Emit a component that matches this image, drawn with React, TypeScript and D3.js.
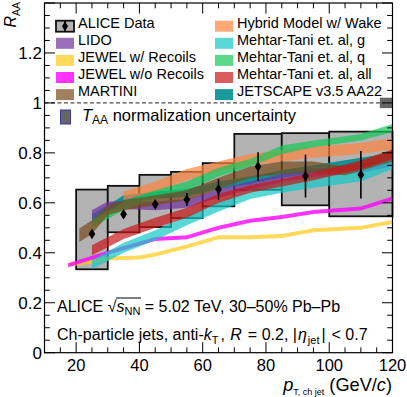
import { area, range, scaleLinear, select } from "d3";
import React, { useEffect, useRef } from "react";

// ALICE data, 30-50% Pb-Pb, R = 0.2
const binLow = [20, 30, 40, 50, 60, 70, 85, 100];
const binHigh = [30, 40, 50, 60, 70, 85, 100, 120];
const binCenter = [25, 35, 45, 55, 65, 77.5, 92.5, 110];
const aliceRaa = [0.475, 0.554, 0.594, 0.613, 0.654, 0.745, 0.707, 0.712];
const aliceStat = [0.014, 0.014, 0.014, 0.026, 0.041, 0.057, 0.086, 0.095];
const aliceSysLow = [0.334, 0.482, 0.503, 0.539, 0.586, 0.652, 0.59, 0.546];
const aliceSysHigh = [0.653, 0.668, 0.712, 0.724, 0.759, 0.876, 0.879, 0.885];

// TAA normalization uncertainty (drawn at R_AA = 1)
const taaUnc = 0.021;
const taaPt = [116, 120];

// models
const lidoPt = [25, 30, 35, 45, 55, 65, 75, 85, 95, 110, 120];
const lidoLow = [0.535, 0.572, 0.575, 0.57, 0.58, 0.62, 0.65, 0.68, 0.7, 0.72, 0.745];
const lidoHigh = [0.57, 0.605, 0.605, 0.605, 0.615, 0.655, 0.685, 0.715, 0.735, 0.755, 0.78];

const jewelRecPt = [17.5, 25, 30, 40, 45, 55, 65, 75, 85, 95, 110, 120];
const jewelRecLow = [0.344, 0.356, 0.369, 0.373, 0.385, 0.417, 0.454, 0.454, 0.459, 0.482, 0.492, 0.515];
const jewelRecHigh = [0.36, 0.372, 0.385, 0.389, 0.401, 0.433, 0.47, 0.47, 0.475, 0.498, 0.508, 0.531];

const jewelNoRecPt = [17.5, 30, 45, 55, 65, 75, 85, 95, 110, 120];
const jewelNoRecLow = [0.342, 0.392, 0.447, 0.454, 0.492, 0.52, 0.535, 0.555, 0.569, 0.609];
const jewelNoRecHigh = [0.358, 0.408, 0.463, 0.47, 0.508, 0.536, 0.551, 0.571, 0.585, 0.625];

const martiniPt = [21, 25, 30, 35, 45, 55, 65, 75, 85, 95, 105, 120];
const martiniLow = [0.443, 0.475, 0.55, 0.57, 0.59, 0.61, 0.655, 0.7, 0.715, 0.72, 0.71, 0.765];
const martiniHigh = [0.497, 0.53, 0.59, 0.61, 0.63, 0.65, 0.7, 0.745, 0.765, 0.765, 0.745, 0.81];

const hybridPt = [35, 45, 55, 65, 75, 85, 95, 110, 120];
const hybridLow = [0.61, 0.645, 0.69, 0.725, 0.75, 0.765, 0.78, 0.795, 0.815];
const hybridHigh = [0.645, 0.685, 0.735, 0.765, 0.795, 0.81, 0.825, 0.84, 0.86];

const mtPt = [25, 35, 45, 55, 65, 75, 85, 95, 110, 120];
const mtGluonLow = [0.335, 0.4, 0.45, 0.51, 0.565, 0.615, 0.64, 0.66, 0.685, 0.735];
const mtGluonHigh = [0.37, 0.44, 0.49, 0.55, 0.605, 0.655, 0.685, 0.705, 0.73, 0.78];
const mtQuarkLow = [0.5, 0.57, 0.615, 0.65, 0.705, 0.745, 0.795, 0.823, 0.85, 0.883];
const mtQuarkHigh = [0.53, 0.605, 0.65, 0.685, 0.74, 0.775, 0.83, 0.85, 0.876, 0.916];
const mtAllLow = [0.39, 0.455, 0.5, 0.54, 0.6, 0.64, 0.665, 0.69, 0.735, 0.775];
const mtAllHigh = [0.43, 0.495, 0.54, 0.58, 0.635, 0.67, 0.695, 0.72, 0.77, 0.815];

const jetscapePt = [25, 30, 35, 45, 55, 65, 75, 85, 95, 110, 120];
const jetscapeLow = [0.525, 0.56, 0.6, 0.615, 0.625, 0.655, 0.675, 0.7, 0.72, 0.745, 0.765];
const jetscapeHigh = [0.555, 0.59, 0.63, 0.645, 0.655, 0.685, 0.705, 0.73, 0.75, 0.78, 0.8];

// legend order; "layer" is the drawing order of the bands
const models = [
  { name: "LIDO", pt: lidoPt, low: lidoLow, high: lidoHigh, color: "#7030a0", alpha: 0.7, layer: 1 },
  { name: "JEWEL w/ Recoils", pt: jewelRecPt, low: jewelRecLow, high: jewelRecHigh, color: "#ffc913", alpha: 0.7, layer: 2 },
  { name: "JEWEL w/o Recoils", pt: jewelNoRecPt, low: jewelNoRecLow, high: jewelNoRecHigh, color: "#ff00ff", alpha: 0.8, layer: 3 },
  { name: "MARTINI", pt: martiniPt, low: martiniLow, high: martiniHigh, color: "#774a1a", alpha: 0.7, layer: 7.5 },
  { name: "Hybrid Model w/ Wake", pt: hybridPt, low: hybridLow, high: hybridHigh, color: "#ff833e", alpha: 0.7, layer: 5 },
  { name: "Mehtar-Tani et. al, g", pt: mtPt, low: mtGluonLow, high: mtGluonHigh, color: "#13c7c7", alpha: 0.7, layer: 6 },
  { name: "Mehtar-Tani et. al, q", pt: mtPt, low: mtQuarkLow, high: mtQuarkHigh, color: "#16c958", alpha: 0.7, layer: 7 },
  { name: "Mehtar-Tani et. al, all", pt: mtPt, low: mtAllLow, high: mtAllHigh, color: "#c91515", alpha: 0.7, layer: 8 },
  { name: "JETSCAPE v3.5 AA22", pt: jetscapePt, low: jetscapeLow, high: jetscapeHigh, color: "#008f8f", alpha: 0.9, layer: 0 },
];

const xTickValues = [20, 40, 60, 80, 100, 120];
const xTickLabels = ["20", "40", "60", "80", "100", "120"];
const yTickValues = [0, 0.2, 0.4, 0.6, 0.8, 1, 1.2];
const yTickLabels = ["0", "0.2", "0.4", "0.6", "0.8", "1", "1.2"];

const font = "'Liberation Sans', Arial, Helvetica, sans-serif";

function App() {
  const widthOfSvg = 407;
  const heightOfSvg = 397;
  const plotReference = useRef<SVGGElement>(null);

  const xScale = scaleLinear().domain([10, 120]).range([44.5, 392.5]);
  const yScale = scaleLinear().domain([0, 1.4]).range([352.7, 3]);
  const [left, right] = xScale.range();
  const [bottom, top] = yScale.range();

  useEffect(() => {
    const g = select(plotReference.current);
    g.selectAll("*").remove();

    // systematic boxes
    g.append("g")
      .selectAll("rect")
      .data(binCenter)
      .join("rect")
      .attr("x", (d, i) => xScale(binLow[i]))
      .attr("width", (d, i) => xScale(binHigh[i]) - xScale(binLow[i]))
      .attr("y", (d, i) => yScale(aliceSysHigh[i]))
      .attr("height", (d, i) => yScale(aliceSysLow[i]) - yScale(aliceSysHigh[i]))
      .attr("fill", "#b3b3b3")
      .attr("stroke", "#111")
      .attr("stroke-width", 1.8);

    // unity line and normalization box
    g.append("line")
      .attr("x1", left)
      .attr("x2", right)
      .attr("y1", yScale(1))
      .attr("y2", yScale(1))
      .attr("stroke", "#222")
      .attr("stroke-width", 1)
      .attr("stroke-dasharray", "4,2.5");
    g.append("rect")
      .attr("x", xScale(taaPt[0]))
      .attr("width", xScale(taaPt[1]) - xScale(taaPt[0]))
      .attr("y", yScale(1 + taaUnc))
      .attr("height", yScale(1 - taaUnc) - yScale(1 + taaUnc))
      .attr("fill", "#666");

    // model bands
    const band = area<number[]>()
      .x((p) => xScale(p[0]))
      .y0((p) => yScale(p[1]))
      .y1((p) => yScale(p[2]));
    [...models]
      .sort((a, b) => a.layer - b.layer)
      .forEach((m) => {
        g.append("path")
          .datum(m.pt.map((p, i) => [p, m.low[i], m.high[i]]))
          .attr("d", band)
          .attr("fill", m.color)
          .attr("fill-opacity", m.alpha)
          .attr("stroke", "none");
      });

    // data points
    g.append("g")
      .selectAll("line")
      .data(binCenter)
      .join("line")
      .attr("x1", (d) => xScale(d))
      .attr("x2", (d) => xScale(d))
      .attr("y1", (d, i) => yScale(aliceRaa[i] + aliceStat[i]))
      .attr("y2", (d, i) => yScale(aliceRaa[i] - aliceStat[i]))
      .attr("stroke", "#000")
      .attr("stroke-width", 1.6);
    g.append("g")
      .selectAll("path")
      .data(binCenter)
      .join("path")
      .attr("transform", (d, i) => `translate(${xScale(d)},${yScale(aliceRaa[i])})`)
      .attr("d", "M0,-5.3L3.4,0L0,5.3L-3.4,0Z")
      .attr("fill", "#000");

    // frame and ticks on all four sides
    const xMinor = range(10, 120.01, 5);
    const yMinor = range(0, 1.401, 0.05);
    const ticks = g.append("g").attr("stroke", "#000").attr("stroke-width", 1);
    const xMajorLen = (v: number) => (xTickValues.includes(v) ? 10.5 : 5.3);
    const yMajorLen = (v: number) => (Math.abs(v * 5 - Math.round(v * 5)) < 1e-6 ? 10.5 : 5.3);
    ticks.selectAll(".xb").data(xMinor).join("line").attr("class", "xb")
      .attr("x1", (d) => xScale(d)).attr("x2", (d) => xScale(d))
      .attr("y1", bottom).attr("y2", (d) => bottom - xMajorLen(d));
    ticks.selectAll(".xt").data(xMinor).join("line").attr("class", "xt")
      .attr("x1", (d) => xScale(d)).attr("x2", (d) => xScale(d))
      .attr("y1", top).attr("y2", (d) => top + xMajorLen(d));
    ticks.selectAll(".yl").data(yMinor).join("line").attr("class", "yl")
      .attr("y1", (d) => yScale(d)).attr("y2", (d) => yScale(d))
      .attr("x1", left).attr("x2", (d) => left + yMajorLen(d));
    ticks.selectAll(".yr").data(yMinor).join("line").attr("class", "yr")
      .attr("y1", (d) => yScale(d)).attr("y2", (d) => yScale(d))
      .attr("x1", right).attr("x2", (d) => right - yMajorLen(d));
    g.append("rect")
      .attr("x", left)
      .attr("y", top)
      .attr("width", right - left)
      .attr("height", bottom - top)
      .attr("fill", "none")
      .attr("stroke", "#000")
      .attr("stroke-width", 1.2);
  }, []);

  const rowBase = (i: number) => 28 + 17.1 * i;
  const leftColumn = models.slice(0, 4);
  const rightColumn = models.slice(4);

  return (
    <svg
      width={widthOfSvg}
      height={heightOfSvg}
      style={{ position: "absolute", left: 0, top: 0, background: "#fff" }}
      fontFamily={font}
    >
      <rect width={widthOfSvg} height={heightOfSvg} fill="#fff" />
      <g ref={plotReference}></g>

      {/* axis labels */}
      {yTickValues.map((v, i) => (
        <text key={"y" + i} x={42} y={yScale(v)} dy="0.36em" textAnchor="end" fontSize={17}>
          {yTickLabels[i]}
        </text>
      ))}
      {xTickValues.map((v, i) => (
        <text key={"x" + i} x={xScale(v)} y={370.5} textAnchor="middle" fontSize={16.5}>
          {xTickLabels[i]}
        </text>
      ))}
      <text transform="translate(16,2) rotate(-90)" textAnchor="end" fontSize={16}>
        <tspan fontStyle="italic">R</tspan>
        <tspan fontSize={10.5} dy={3.8}>AA</tspan>
      </text>
      <text x={392} y={390.5} textAnchor="end" fontSize={18.2}>
        <tspan fontStyle="italic">p</tspan>
        <tspan fontSize={9} dy={4.5}>T, ch jet</tspan>
        <tspan dy={-4.5}> (GeV/</tspan>
        <tspan fontStyle="italic">c</tspan>
        <tspan>)</tspan>
      </text>

      {/* legend */}
      <g fontSize={14.5}>
        <rect x={56} y={rowBase(0) - 7.3} width={18} height={11} fill="#b3b3b3" stroke="#111" strokeWidth={1.8} />
        <line x1={65} x2={65} y1={rowBase(0) - 7.3} y2={rowBase(0) + 3.7} stroke="#000" strokeWidth={1.5} />
        <path d={`M65,${rowBase(0) - 6.8}L68,${rowBase(0) - 1.8}L65,${rowBase(0) + 3.2}L62,${rowBase(0) - 1.8}Z`} fill="#000" />
        <text x={78} y={rowBase(0)}>ALICE Data</text>
        {leftColumn.map((m, i) => (
          <g key={m.name}>
            <rect x={56} y={rowBase(i + 1) - 7.3} width={18} height={11} fill={m.color} fillOpacity={m.alpha} />
            <text x={78} y={rowBase(i + 1)}>{m.name}</text>
          </g>
        ))}
        {rightColumn.map((m, i) => (
          <g key={m.name}>
            <rect x={215} y={rowBase(i) - 7.3} width={18} height={11} fill={m.color} fillOpacity={m.alpha} />
            <text x={237} y={rowBase(i)}>{m.name}</text>
          </g>
        ))}
      </g>
      <rect x={60.5} y={110} width={10} height={14} fill="#666" stroke="#3a3a9a" strokeWidth={1} />
      <text x={82} y={121} fontSize={16.5}>
        <tspan fontStyle="italic">T</tspan>
        <tspan fontSize={12} dy={3}>AA</tspan>
        <tspan dy={-3}> normalization uncertainty</tspan>
      </text>

      {/* system labels */}
      <text x={57} y={311.5} fontSize={16}>
        ALICE <tspan>√</tspan>
        <tspan fontStyle="italic">s</tspan>
        <tspan fontSize={11} dy={3.5}>NN</tspan>
        <tspan dy={-3.5}> = 5.02 TeV, 30–50% Pb–Pb</tspan>
      </text>
      <line x1={116} x2={141} y1={298} y2={298} stroke="#000" strokeWidth={1} />
      <text x={57} y={340} fontSize={16}>
        Ch-particle jets, anti-<tspan fontStyle="italic">k</tspan>
        <tspan fontSize={11} dy={3.5}>T</tspan>
        <tspan dy={-3.5} dx={2}>, </tspan>
        <tspan fontStyle="italic" dx={1}>R</tspan>
        <tspan dx={1.5}> = 0.2, |</tspan>
        <tspan fontStyle="italic" dx={1}>η</tspan>
        <tspan fontSize={11} dy={3.5} dx={1}>jet</tspan>
        <tspan dy={-3.5} dx={2}>|</tspan>
        <tspan dx={1.5}> &lt; 0.7</tspan>
      </text>
    </svg>
  );
}

export default App;
